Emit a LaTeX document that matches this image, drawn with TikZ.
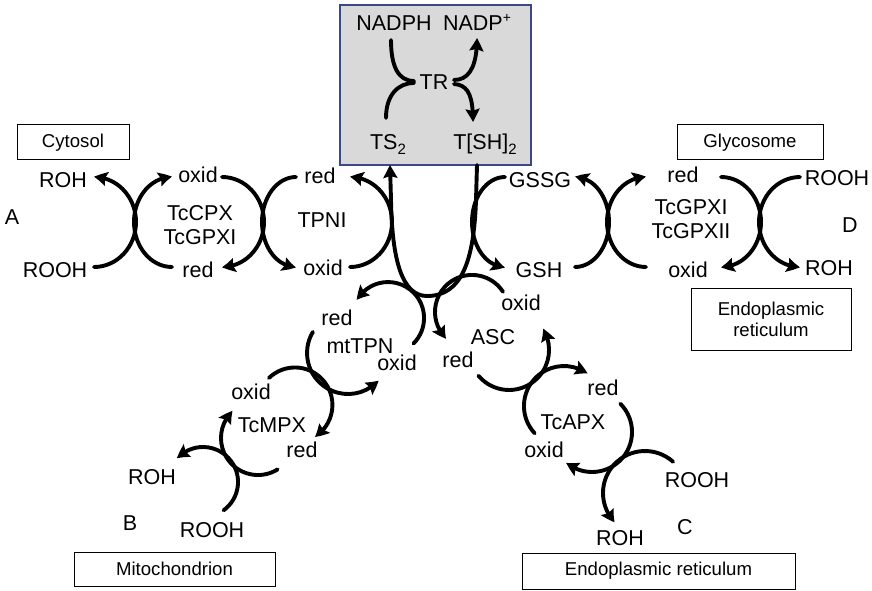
\documentclass[tikz,border=0pt]{standalone}
\usepackage{fontspec}
\setmainfont{Liberation Sans}
\usetikzlibrary{arrows.meta,bending}
\definecolor{trfill}{RGB}{217,217,217}
\definecolor{tredge}{RGB}{60,72,135}
\newcommand\lowtwo{\raisebox{-5pt}{\fontsize{15}{15}\selectfont 2}}
\newcommand\highplus{\raisebox{8pt}{\fontsize{14}{14}\selectfont +}}

\begin{document}
\begin{tikzpicture}[x=1pt,y=1pt,
  lbl/.style={font=\fontsize{21.5}{24}\selectfont, inner sep=0pt, text height=15.5pt, text depth=0pt},
  lbltwo/.style={font=\fontsize{21.5}{24}\selectfont, inner sep=0pt, align=center},
  tag/.style={draw, line width=1pt, fill=white, inner sep=0pt, font=\fontsize{18.6}{21}\selectfont},
  rx/.style={line width=3.9pt, line cap=round, -{Stealth[length=13pt,width=14pt,inset=2pt,bend]}},
  ln/.style={line width=3.9pt, line cap=round}
]
\useasboundingbox (0,0) rectangle (872,590);

% trypanothione reductase box
\node[draw=tredge, fill=trfill, line width=2.5pt, minimum width=191, minimum height=160] (trbox) at (435.5,505) {};
\node[lbl] (nadph) at (394,567) {NADPH};
\node[lbl] (nadp) at (477,567) {NADP\highplus};
\node[lbl] (tr) at (434,508) {TR};
\node[lbl] (ts) at (388,448) {TS\lowtwo};
\node[lbl] (tsh) at (485,448) {T[SH]\lowtwo};

\draw[ln] (391,550) .. controls (391,524) and (398,509) .. (414,509);
\draw[ln] (386,472) .. controls (386,495) and (398,507) .. (414,507);
\draw[rx] (454,510) .. controls (470,510) and (477,525) .. (477,552);
\draw[rx] (454,506) .. controls (468,505) and (473,495) .. (473,468);

% T[SH]2 -> TS2 stem
\coordinate (stemR) at (477,425);
\coordinate (stemL) at (390,425);
\draw[rx] (stemR) -- (476,390) .. controls (474,330) and (462,294) .. (427,294)
  .. controls (402,294) and (392,330) .. (391,390) -- (stemL);

% compartment boxes
\node[tag, minimum width=112, minimum height=35] (cyto) at (73,447.5) {Cytosol};
\node[tag, minimum width=146, minimum height=35] (glyc) at (750,447.5) {Glycosome};
\node[tag, minimum width=160, minimum height=62, align=center] (er1) at (771,271) {Endoplasmic\\reticulum};
\node[tag, minimum width=201, minimum height=34] (mito) at (174.5,21) {Mitochondrion};
\node[tag, minimum width=273, minimum height=36] (er2) at (658.5,19) {Endoplasmic reticulum};

% cytosol cycle (A)
\node[lbl] (rohA) at (63,410) {ROH};
\node[lbl] (roohA) at (55,320) {ROOH};
\node[lbl] (labA) at (12,373) {A};
\node[lbl] (oxA) at (198,415) {oxid};
\node[lbl] (redA) at (198,320) {red};
\node[lbltwo] (pxA) at (200,365) {TcCPX\\TcGPXI};
\node[lbl] (redT) at (320,414) {red};
\node[lbl] (oxT) at (323,322) {oxid};
\node[lbl] (tpni) at (322,370) {TPNI};

\draw[rx] (94,323) arc[start angle=-90, end angle=90, x radius=42, y radius=45];
\draw[rx] (172,323) arc[start angle=270, end angle=90, x radius=38, y radius=45];
\draw[rx] (222,413) arc[start angle=90, end angle=-90, x radius=42, y radius=45];
\draw[rx] (296,413) arc[start angle=90, end angle=270, x radius=34, y radius=45];
\draw[rx] (350,323) arc[start angle=-90, end angle=90, x radius=42, y radius=45];

% glycosome cycle (D)
\node[lbl] (gssg) at (540,410) {GSSG};
\node[lbl] (gsh) at (539,320) {GSH};
\node[lbl] (redD) at (683,415) {red};
\node[lbl] (oxD) at (688,320) {oxid};
\node[lbltwo] (pxD) at (691,371) {TcGPXI\\TcGPXII};
\node[lbl] (roohD) at (837,412) {ROOH};
\node[lbl] (rohD) at (829,322) {ROH};
\node[lbl] (labD) at (850,365) {D};

\draw[rx] (505,413) arc[start angle=90, end angle=270, x radius=33, y radius=45];
\draw[rx] (575,323) arc[start angle=-90, end angle=90, x radius=34, y radius=45];
\draw[rx] (646,323) arc[start angle=270, end angle=90, x radius=39, y radius=45];
\draw[rx] (721,413) arc[start angle=90, end angle=-90, x radius=40, y radius=45];
\draw[rx] (800,413) arc[start angle=90, end angle=270, x radius=41, y radius=45];

% mitochondrial cycle (B)
\node[lbl] (redM) at (337,272) {red};
\node[lbl] (mttpn) at (360,244) {mtTPN};
\node[lbl] (oxM) at (397,227) {oxid};
\node[lbl] (oxB) at (251,198) {oxid};
\node[lbl] (mpx) at (272,165) {TcMPX};
\node[lbl] (redB) at (302,140) {red};
\node[lbl] (rohB) at (152,113) {ROH};
\node[lbl] (labB) at (130,67) {B};
\node[lbl] (roohB) at (212,60) {ROOH};

\draw[rx] (413.5,246.5) arc[start angle=-45, end angle=150, radius=36];
\draw[rx] (312.9,258.1) arc[start angle=149, end angle=318, radius=41];
\draw[rx] (268.9,212.0) arc[start angle=134, end angle=-58, radius=37.5];
\draw[rx] (277.6,120.6) arc[start angle=-58, end angle=-227, radius=37];
\draw[rx] (223.6,79.7) arc[start angle=-54, end angle=138, radius=35];

% endoplasmic reticulum cycle (C)
\node[lbl] (oxS) at (521,287) {oxid};
\node[lbl] (asc) at (493,253) {ASC};
\node[lbl] (redS) at (458,230) {red};
\node[lbl] (redC) at (603,202) {red};
\node[lbl] (apx) at (573,168) {TcAPX};
\node[lbl] (oxC) at (544,140) {oxid};
\node[lbl] (roohC) at (697,110) {ROOH};
\node[lbl] (labC) at (685,63) {C};
\node[lbl] (rohC) at (620,52) {ROH};

\draw[rx] (503.0,298.2) arc[start angle=33, end angle=226, radius=37];
\draw[rx] (478.4,214.3) arc[start angle=220, end angle=392, radius=40];
\draw[rx] (534.7,156.7) arc[start angle=223, end angle=54, radius=40];
\draw[rx] (620.3,186.3) arc[start angle=45, end angle=-130, radius=40];
\draw[rx] (673.1,128.2) arc[start angle=48, end angle=224, radius=42];
\end{tikzpicture}
\end{document}
